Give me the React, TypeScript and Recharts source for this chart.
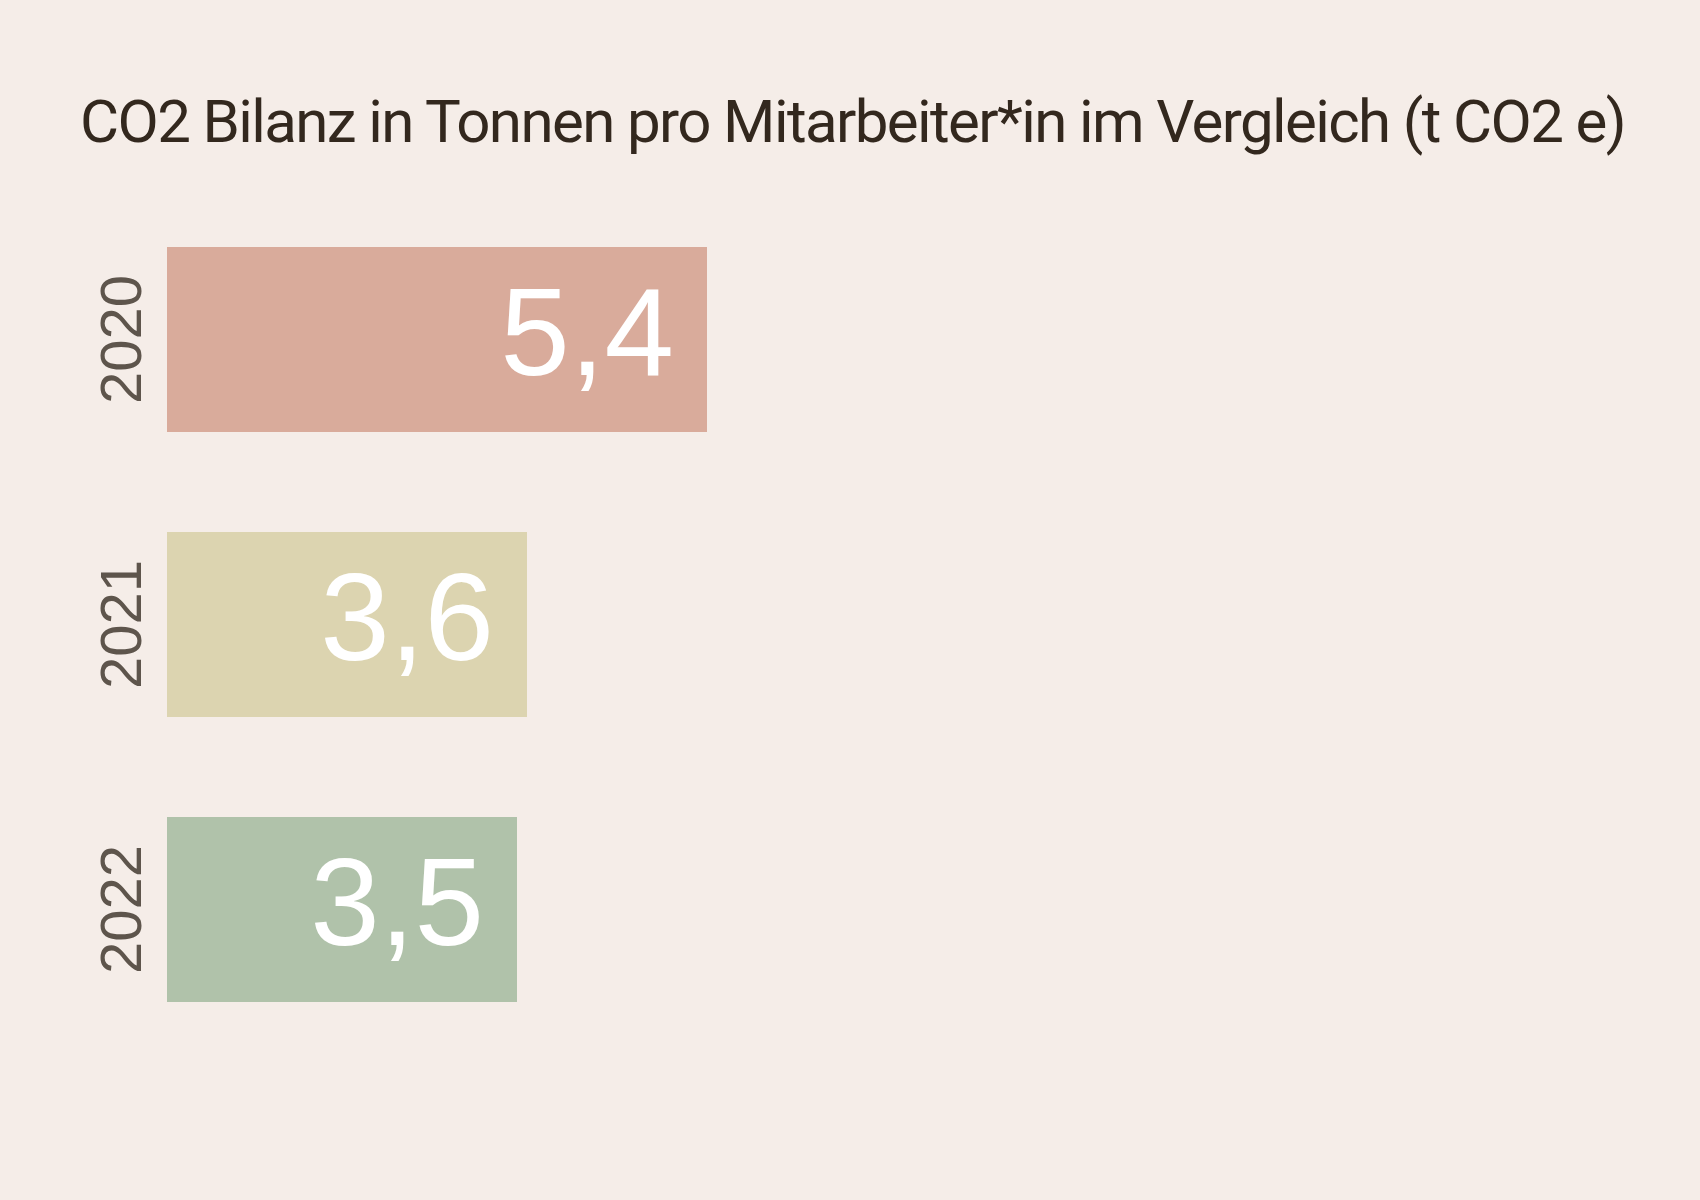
import { Bar, BarChart, Cell, LabelList, XAxis, YAxis } from 'recharts';

const years = ['2020', '2021', '2022'];
const values = [5.4, 3.6, 3.5];
const colors = ['#d9ab9b', '#dcd4b0', '#b0c2aa'];

const data = years.map((year, i) => ({ year, value: values[i] }));

const FONT = '"Liberation Sans", Arial, sans-serif';

const renderYearTick = (props: any) => {
  const { y, payload } = props;
  return (
    <g transform={`translate(141, ${y}) rotate(-90)`}>
      <text
        x={0}
        y={0}
        textAnchor="middle"
        fill="#5e554c"
        fontSize={58}
        fontFamily={FONT}
      >
        {payload.value}
      </text>
    </g>
  );
};

const ValueLabel = (props: any) => {
  const { x, y, width, height, value } = props;
  return (
    <text
      x={x + width - 33}
      y={y + height / 2 + 35}
      textAnchor="end"
      fill="#ffffff"
      fontSize={125}
      fontFamily={FONT}
    >
      {String(value).replace('.', ',')}
    </text>
  );
};

export default function App() {
  return (
    <div
      style={{
        position: 'absolute',
        top: 0,
        left: 0,
        width: 1700,
        height: 1200,
        background: '#f5ede8',
      }}
    >
      <div
        style={{
          position: 'absolute',
          left: 80,
          top: 86,
          fontFamily: 'Roboto, sans-serif',
          fontSize: 60,
          color: '#33281e',
          whiteSpace: 'nowrap',
          letterSpacing: -1.6,
        }}
      >
        CO2 Bilanz in Tonnen pro Mitarbeiter*in im Vergleich (t CO2 e)
      </div>
      <BarChart
        width={1700}
        height={1200}
        data={data}
        layout="vertical"
        margin={{ top: 197, right: 33, bottom: 148, left: 87 }}
        barCategoryGap={50}
      >
        <XAxis type="number" domain={[0, 15]} hide />
        <YAxis
          type="category"
          dataKey="year"
          width={80}
          axisLine={false}
          tickLine={false}
          tick={renderYearTick}
        />
        <Bar dataKey="value" isAnimationActive={false}>
          {data.map((d, i) => (
            <Cell key={d.year} fill={colors[i]} />
          ))}
          <LabelList dataKey="value" content={<ValueLabel />} />
        </Bar>
      </BarChart>
    </div>
  );
}
